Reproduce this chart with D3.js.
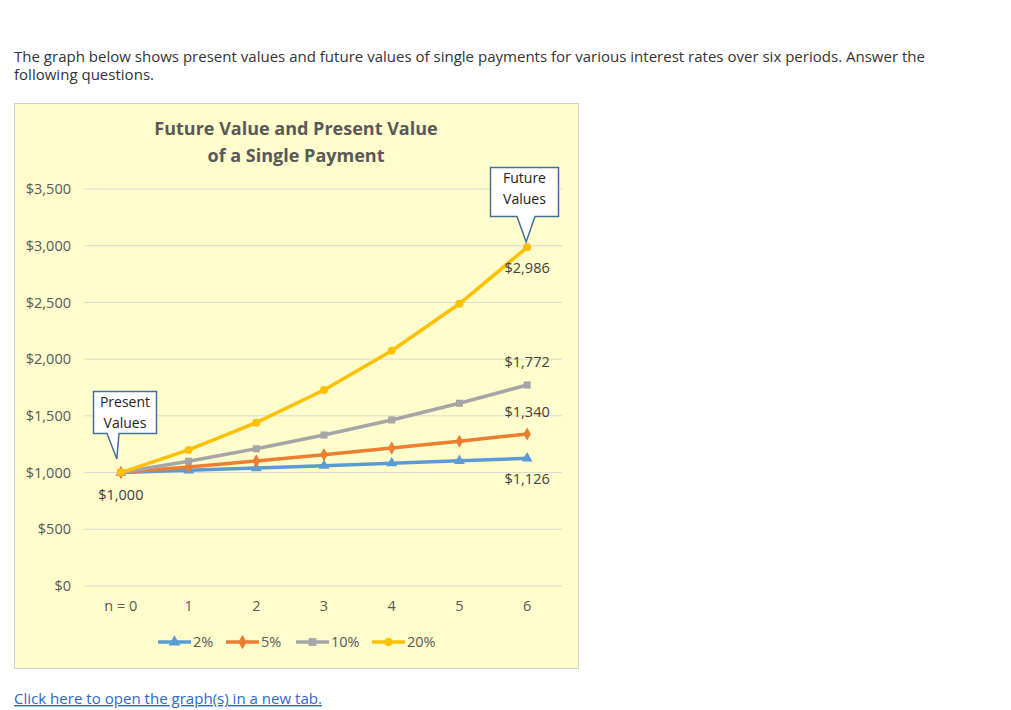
<!DOCTYPE html>
<html><head><meta charset="utf-8">
<script src="https://cdn.jsdelivr.net/npm/d3@7"></script>
<style>
body{margin:0;background:#fff;}
svg{display:block;}
</style></head>
<body>
<svg id="c" width="1011" height="710"></svg>
<script>
const periods = ["n = 0","1","2","3","4","5","6"];
const rate2  = [1000,1020,1040,1061,1082,1104,1126];
const rate5  = [1000,1050,1103,1158,1216,1276,1340];
const rate10 = [1000,1100,1210,1331,1464,1611,1772];
const rate20 = [1000,1200,1440,1728,2074,2488,2986];
const seriesNames = ["2%","5%","10%","20%"];
const yTicks = [0,500,1000,1500,2000,2500,3000,3500];
const endLabels = [{v:2986,t:"$2,986"},{v:1772,t:"$1,772"},{v:1340,t:"$1,340"},{v:1126,t:"$1,126"}];

const series = [
  {name:seriesNames[0], vals:rate2,  color:"#5B9BD5", sym:d3.symbolTriangle},
  {name:seriesNames[1], vals:rate5,  color:"#ED7D31", sym:d3.symbolDiamond},
  {name:seriesNames[2], vals:rate10, color:"#A5A5A5", sym:d3.symbolSquare},
  {name:seriesNames[3], vals:rate20, color:"#FFC000", sym:d3.symbolCircle}
];

const svg = d3.select("#c");
const font = "'Open Sans', Lato, sans-serif";
const cfont = "'Open Sans', Lato, sans-serif";

// header text
svg.append("text").attr("x",14).attr("y",62).attr("font-family",font).attr("font-size",14).attr("fill","#333")
  .attr("textLength",911).attr("lengthAdjust","spacingAndGlyphs")
  .text("The graph below shows present values and future values of single payments for various interest rates over six periods. Answer the");
svg.append("text").attr("x",14).attr("y",80).attr("font-family",font).attr("font-size",14).attr("fill","#333")
  .attr("textLength",140).attr("lengthAdjust","spacingAndGlyphs")
  .text("following questions.");

// chart box
svg.append("rect").attr("x",14.5).attr("y",103.5).attr("width",564).attr("height",565)
  .attr("fill","#FFFDCC").attr("stroke","#D0D0D0");

// title
svg.append("text").attr("x",296).attr("y",135).attr("text-anchor","middle").attr("font-family",cfont)
  .attr("font-size",18).attr("font-weight","bold").attr("fill","#595959").text("Future Value and Present Value");
svg.append("text").attr("x",296).attr("y",162).attr("text-anchor","middle").attr("font-family",cfont)
  .attr("font-size",18).attr("font-weight","bold").attr("fill","#595959").text("of a Single Payment");

const x = d3.scaleBand().domain(periods).range([87,561]);
const y = d3.scaleLinear().domain([0,3500]).range([586,189]);
const cx = p => x(p)+x.bandwidth()/2;

// gridlines
svg.append("g").selectAll("line").data(yTicks).join("line")
  .attr("x1",84).attr("x2",562).attr("y1",d=>y(d)).attr("y2",d=>y(d))
  .attr("stroke","#D9D9D9").attr("stroke-width",1);

// y axis
const yAxis = d3.axisLeft(y).tickValues(yTicks).tickSize(0).tickPadding(0)
  .tickFormat(d=>"$"+d3.format(",")(d));
const ya = svg.append("g").attr("transform","translate(71,0)").call(yAxis);
ya.select(".domain").remove();
ya.selectAll("text").attr("font-family",cfont).attr("font-size",14.5).attr("fill","#595959");

// x axis
const xAxis = d3.axisBottom(x).tickSize(0).tickPadding(0);
const xa = svg.append("g").attr("transform","translate(0,601)").call(xAxis);
xa.select(".domain").remove();
xa.selectAll("text").attr("font-family",cfont).attr("font-size",14.5).attr("fill","#595959").attr("dy","0.71em");

// lines
const line = d3.line().x((d,i)=>cx(periods[i])).y(d=>y(d));
series.forEach(s=>{
  svg.append("path").datum(s.vals).attr("d",line).attr("fill","none")
    .attr("stroke",s.color).attr("stroke-width",3.5).attr("stroke-linejoin","round");
  svg.append("g").selectAll("path").data(s.vals).join("path")
    .attr("transform",(d,i)=>`translate(${cx(periods[i])},${y(d)})`)
    .attr("d",d3.symbol().type(s.sym).size(50)).attr("fill",s.color);
});

// data labels
svg.append("text").attr("x",cx(periods[0])).attr("y",y(rate2[0])+22).attr("dy","0.35em").attr("text-anchor","middle")
  .attr("font-family",cfont).attr("font-size",14.5).attr("fill","#404040").text("$1,000");
const lblOff = {2986:21, 1772:-23, 1340:-22, 1126:21};
svg.append("g").selectAll("text").data(endLabels).join("text")
  .attr("x",cx(periods[6])).attr("y",d=>y(d.v)+lblOff[d.v]).attr("dy","0.35em").attr("text-anchor","middle")
  .attr("font-family",cfont).attr("font-size",14.5).attr("fill","#404040").text(d=>d.t);

// callouts
function callout(x0,y0,w,h,tx,ty,tipX,tipW,lines){
  const p = `M${x0},${y0}H${x0+w}V${y0+h}H${tipX+tipW}L${tx},${ty}L${tipX},${y0+h}H${x0}Z`;
  svg.append("path").attr("d",p).attr("fill","#fff").attr("stroke","#41719C").attr("stroke-width",1.5);
  lines.forEach((t,i)=>svg.append("text").attr("x",x0+w/2).attr("y",y0+15+i*21).attr("text-anchor","middle")
    .attr("font-family",cfont).attr("font-size",14).attr("fill","#222").text(t));
}
callout(93.5,391.5,63,42, cx(periods[0])-4, 459, 107, 12, ["Present","Values"]);
callout(490.5,167.5,68,49, cx(periods[6])-1, 242, 517, 18, ["Future","Values"]);

// legend
const leg = [{x:158},{x:226},{x:296},{x:372}];
series.forEach((s,i)=>{
  const g = svg.append("g").attr("transform",`translate(${leg[i].x},642)`);
  g.append("line").attr("x1",0).attr("x2",33).attr("stroke",s.color).attr("stroke-width",3.5);
  g.append("path").attr("transform","translate(16.5,0)").attr("d",d3.symbol().type(s.sym).size(60)).attr("fill",s.color);
  g.append("text").attr("x",35).attr("dy","0.35em").attr("font-family",cfont).attr("font-size",14.5)
    .attr("fill","#595959").text(s.name);
});

// link
svg.append("text").attr("x",14).attr("y",704).attr("font-family",font).attr("font-size",14)
  .attr("fill","#2F67C8").attr("text-decoration","underline")
  .attr("textLength",308).attr("lengthAdjust","spacingAndGlyphs")
  .text("Click here to open the graph(s) in a new tab.");
</script>
</body></html>
